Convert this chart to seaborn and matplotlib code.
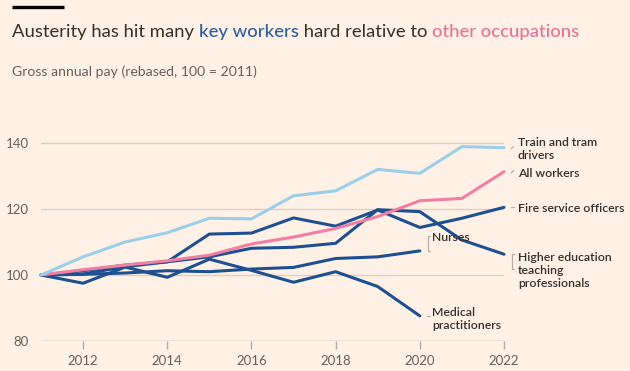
import matplotlib
matplotlib.use("Agg")
import matplotlib.pyplot as plt
import seaborn as sns
import pandas as pd

# ===============================
# Data
# ===============================
years = list(range(2011, 2023))

train_tram = [100, 105.5, 110, 112.8, 117.2, 117, 124, 125.5, 132, 130.8, 138.9, 138.6]
all_workers = [100, 101.6, 103, 104.3, 106, 109.4, 111.5, 114.1, 117.7, 122.5, 123.2, 131.3]
fire_service = [100, 101.3, 103, 104, 112.4, 112.7, 117.3, 114.8, 119.7, 114.4, 117.2, 120.5]
higher_ed = [100, 100.3, 102.5, 104, 105.5, 108.1, 108.4, 109.6, 119.8, 119.2, 110.6, 106.3]
nurses = [100, 100.2, 100.6, 101.3, 101, 101.8, 102.3, 105, 105.5, 107.3]
medical = [100, 97.5, 102.4, 99.3, 104.8, 101.4, 97.8, 101, 96.5, 87.6]

series_names = ["Train and tram\ndrivers", "All workers", "Fire service officers",
                "Higher education\nteaching\nprofessionals", "Nurses", "Medical\npractitioners"]
series_values = [train_tram, all_workers, fire_service, higher_ed, nurses, medical]

# label layout: top of first text line (data units) and connector style
label_top = [141.8, 132.5, 121.7, 106.9, 112.9, 90.2]
conn_kind = ["tick", "tick", "dash", "bracket", "bracket", "dash"]
conn_other_end = [None, None, None, 101.8, 111.8, None]

y_ticks = [80, 100, 120, 140]
x_ticks = [2012, 2014, 2016, 2018, 2020, 2022]

# ===============================
# Style
# ===============================
BG = "#FFF1E5"
DARK = "#1E4F90"
LIGHT = "#9ACEE9"
PINK = "#F07FA3"
TEXT = "#33302E"
GREY = "#66605C"
GRID = "#DCCFC4"
CONN = "#B8AEA5"
palette = [LIGHT, PINK, DARK, DARK, DARK, DARK]

sns.set_theme(style="white")
plt.rcParams["font.family"] = ["Lato", "DejaVu Sans"]

rows = []
for name, vals in zip(series_names, series_values):
    for yr, v in zip(years, vals):
        rows.append({"year": yr, "value": v, "series": name})
df = pd.DataFrame(rows)

fig = plt.figure(figsize=(6.3, 3.71), dpi=100, facecolor=BG)
ax = fig.add_axes([41 / 630, 0.0809, 0.7349, 0.5781], facecolor=BG)

# dark lines first, then pink and light blue on top
order = [2, 3, 4, 5, 1, 0]
for i in order:
    sub = df[df["series"] == series_names[i]]
    sns.lineplot(data=sub, x="year", y="value", ax=ax, color=palette[i],
                 lw=2.2, solid_joinstyle="round", solid_capstyle="round",
                 clip_on=False, legend=False)

ax.set_xlim(2011, 2022)
ax.set_ylim(80, 145)
ax.set_yticks(y_ticks)
ax.set_xticks(x_ticks)
ax.set_xlabel("")
ax.set_ylabel("")
for yv in y_ticks[1:]:
    ax.axhline(yv, color=GRID, lw=1.0, zorder=0)
ax.axhline(80, color="#B3A89F", lw=1.0, zorder=0)
sns.despine(ax=ax, left=True, bottom=True, top=True, right=True)
ax.tick_params(axis="y", left=False, length=0, pad=9, labelsize=9.5, labelcolor=GREY)
ax.tick_params(axis="x", bottom=True, length=6, width=1.0, color="#B3A89F", pad=4,
               labelsize=9.5, labelcolor=GREY, direction="out")

# labels + little connectors
for name, vals, lt, kind, other in zip(series_names, series_values, label_top,
                                        conn_kind, conn_other_end):
    xe = years[len(vals) - 1]
    ye = vals[-1]
    lx = xe + 0.33 if xe == 2022 else xe + 0.29
    ax.text(lx, lt, name, ha="left", va="top", fontsize=8.8, color=TEXT,
            fontweight="semibold", linespacing=1.2, clip_on=False)
    cx = xe + 0.2
    if kind == "tick":
        ax.plot([cx - 0.03, cx + 0.03], [ye - 0.35, ye + 0.35], color=CONN, lw=0.9,
                clip_on=False)
    elif kind == "dash":
        ax.plot([cx - 0.04, cx + 0.04], [ye, ye], color=CONN, lw=0.9, clip_on=False)
    else:
        ax.plot([cx + 0.04, cx, cx, cx + 0.04], [ye, ye, other, other], color=CONN,
                lw=0.9, clip_on=False)

# ===============================
# Title, subtitle, top bar
# ===============================
fig.add_artist(plt.Line2D([12 / 630, 64 / 630], [1 - 6.5 / 371] * 2, color="black",
                          lw=2.4, solid_capstyle="butt"))

pieces = [("Austerity has hit many ", TEXT), ("key workers", "#2D5FA2"),
          (" hard relative to ", TEXT), ("other occupations", "#E9709A")]
fig.canvas.draw()
renderer = fig.canvas.get_renderer()
x0 = 12 / 630
for txt, col in pieces:
    t = fig.text(x0, 1 - 37 / 371, txt, color=col, fontsize=13.3, va="baseline",
                 ha="left", fontweight="medium" if col != TEXT else "normal")
    bb = t.get_window_extent(renderer=renderer)
    x0 = bb.x1 / fig.bbox.width

fig.text(12 / 630, 1 - 76 / 371, "Gross annual pay (rebased, 100 = 2011)", color=GREY,
         fontsize=10.1, va="baseline", ha="left")

fig.savefig("out.png", dpi=100, facecolor=BG)
